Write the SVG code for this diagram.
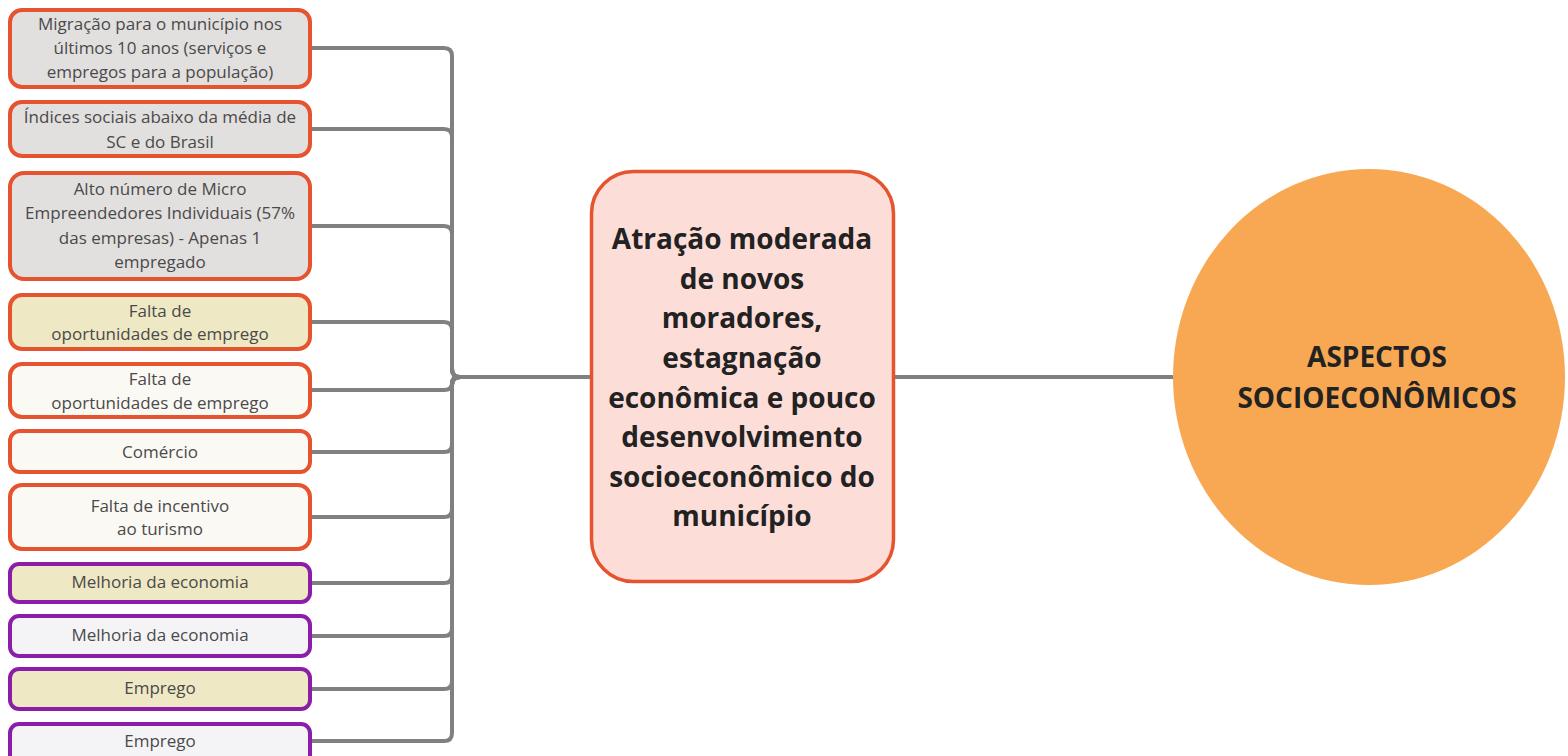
<svg xmlns="http://www.w3.org/2000/svg" width="1568" height="756" viewBox="0 0 1568 756">
<style>
.bx{stroke-width:4}
.or{stroke:#e5532f}
.pu{stroke:#8b1ea8}
.g{fill:#e2dfdf}
.y{fill:#efe8c4}
.w{fill:#fbf9f4}
.b{fill:#f4f4f7}
.t{font-family:"Open Sans","Noto Sans",sans-serif;font-size:17px;fill:#4a4a4a;text-anchor:middle}
.tb{font-family:"Open Sans","Noto Sans",sans-serif;font-weight:bold;font-size:28px;fill:#222;text-anchor:middle}
.c{fill:none;stroke:#808080;stroke-width:4;stroke-linejoin:round}
</style>
<rect width="1568" height="756" fill="#fff"/>
<g id="connectors">
<path class="c" d="M312,48 H444 Q452,48 452,56 V369 Q452,377 460,377 H590"/>
<path class="c" d="M312,129 H444 Q452,129 452,137 V369 Q452,377 460,377"/>
<path class="c" d="M312,226 H444 Q452,226 452,234 V369 Q452,377 460,377"/>
<path class="c" d="M312,322 H444 Q452,322 452,330 V369 Q452,377 460,377"/>
<path class="c" d="M312,390 H444 Q452,390 452,383 Q452,377 460,377"/>
<path class="c" d="M312,452 H444 Q452,452 452,444 V385 Q452,377 460,377"/>
<path class="c" d="M312,517 H444 Q452,517 452,509 V385 Q452,377 460,377"/>
<path class="c" d="M312,583 H444 Q452,583 452,575 V385 Q452,377 460,377"/>
<path class="c" d="M312,636 H444 Q452,636 452,628 V385 Q452,377 460,377"/>
<path class="c" d="M312,689 H444 Q452,689 452,681 V385 Q452,377 460,377"/>
<path class="c" d="M312,741 H444 Q452,741 452,733 V385 Q452,377 460,377"/>
<path class="c" d="M895,377 H1175"/>
</g>
<g id="n1"><rect class="bx or g" x="10" y="10" width="300" height="77" rx="12"/>
<text class="t" x="160" y="30">Migração para o município nos</text><text class="t" x="160" y="54">últimos 10 anos (serviços e</text><text class="t" x="160" y="78">empregos para a população)</text></g>
<g id="n2"><rect class="bx or g" x="10" y="102" width="300" height="54" rx="12"/>
<text class="t" x="160" y="123">Índices sociais abaixo da média de</text><text class="t" x="160" y="147.5">SC e do Brasil</text></g>
<g id="n3"><rect class="bx or g" x="10" y="173" width="300" height="106" rx="14"/>
<text class="t" x="160" y="195">Alto número de Micro</text><text class="t" x="160" y="219">Empreendedores Individuais (57%</text><text class="t" x="160" y="243.5">das empresas) - Apenas 1</text><text class="t" x="160" y="267.5">empregado</text></g>
<g id="n4"><rect class="bx or y" x="10" y="295" width="300" height="54" rx="12"/>
<text class="t" x="160" y="317">Falta de</text><text class="t" x="160" y="340">oportunidades de emprego</text></g>
<g id="n5"><rect class="bx or w" x="10" y="364" width="300" height="53" rx="12"/>
<text class="t" x="160" y="385">Falta de</text><text class="t" x="160" y="409">oportunidades de emprego</text></g>
<g id="n6"><rect class="bx or w" x="10" y="431" width="300" height="41" rx="10"/>
<text class="t" x="160" y="458">Comércio</text></g>
<g id="n7"><rect class="bx or w" x="10" y="485" width="300" height="64" rx="12"/>
<text class="t" x="160" y="512">Falta de incentivo</text><text class="t" x="160" y="535">ao turismo</text></g>
<g id="n8"><rect class="bx pu y" x="10" y="564" width="300" height="38" rx="9"/>
<text class="t" x="160" y="588">Melhoria da economia</text></g>
<g id="n9"><rect class="bx pu b" x="10" y="616" width="300" height="40" rx="9"/>
<text class="t" x="160" y="641">Melhoria da economia</text></g>
<g id="n10"><rect class="bx pu y" x="10" y="669" width="300" height="40" rx="9"/>
<text class="t" x="160" y="694">Emprego</text></g>
<g id="n11"><rect class="bx pu b" x="10" y="724" width="300" height="40" rx="9"/>
<text class="t" x="160" y="746.5">Emprego</text></g>
<g id="center"><rect x="591.5" y="171.5" width="302" height="410" rx="42" fill="#fdddd8" stroke="#e5532f" stroke-width="3.5"/>
<text class="tb" x="742" y="249">Atração moderada</text>
<text class="tb" x="742" y="289">de novos</text>
<text class="tb" x="742" y="328">moradores,</text>
<text class="tb" x="742" y="368">estagnação</text>
<text class="tb" x="742" y="408">econômica e pouco</text>
<text class="tb" x="742" y="447">desenvolvimento</text>
<text class="tb" x="742" y="487">socioeconômico do</text>
<text class="tb" x="742" y="526">município</text></g>
<g id="root"><ellipse cx="1369" cy="377" rx="196" ry="208" fill="#f8a852"/>
<text class="tb" x="1377" y="367">ASPECTOS</text>
<text class="tb" x="1377" y="408">SOCIOECONÔMICOS</text></g>
</svg>
